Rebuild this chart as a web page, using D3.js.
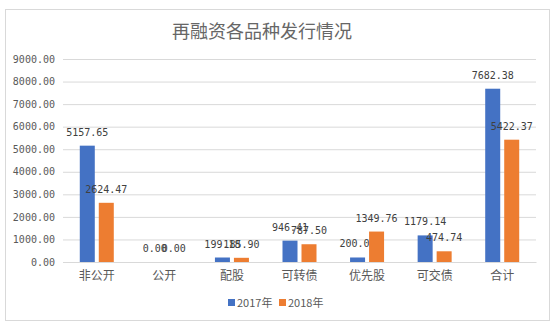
<!DOCTYPE html>
<html>
<head>
<meta charset="utf-8">
<script src="https://cdn.jsdelivr.net/npm/d3@7/dist/d3.min.js"></script>
<style>
  body { margin: 0; background: #fff; }
  svg text { font-family: "Noto Sans CJK SC", "DejaVu Sans", sans-serif; }
  svg text.num { font-family: "DejaVu Sans Mono", monospace; }
</style>
</head>
<body>
<svg id="chart"></svg>
<script>
'use strict';

var categories = ['非公开', '公开', '配股', '可转债', '优先股', '可交债', '合计'];
var series2017 = [5157.65, 0, 199.18, 946.41, 200.00, 1179.14, 7682.38];
var series2018 = [2624.47, 0, 185.90, 787.50, 1349.76, 474.74, 5422.37];
var seriesNames = ['2017年', '2018年'];
var yTicks = [0, 1000, 2000, 3000, 4000, 5000, 6000, 7000, 8000, 9000];
var colors = ['#4472C4', '#ED7D31'];

var svgWidth = 555, svgHeight = 328;
var margin = { top: 59, right: 19, bottom: 66, left: 63 };
var width = svgWidth - margin.left - margin.right;
var height = svgHeight - margin.top - margin.bottom;

var svg = d3.select('#chart')
    .attr('width', svgWidth)
    .attr('height', svgHeight);

// outer frame
svg.append('rect')
    .attr('x', 5.5).attr('y', 9.5)
    .attr('width', 544).attr('height', 311)
    .attr('fill', '#fff')
    .attr('stroke', '#d9d9d9');

svg.append('text')
    .attr('x', 262).attr('y', 38)
    .attr('text-anchor', 'middle')
    .attr('font-size', 18)
    .attr('fill', '#666')
    .text('再融资各品种发行情况');

var g = svg.append('g')
    .attr('transform', 'translate(' + margin.left + ',' + margin.top + ')');

var x = d3.scaleBand().domain(categories).range([0, width]);
var y = d3.scaleLinear().domain([0, 9000]).range([height, 0]);

// grid + y labels
g.append('g')
    .call(d3.axisLeft(y).tickValues(yTicks).tickSize(-width).tickPadding(8)
        .tickFormat(function(d) { return d3.format('.2f')(d); }))
    .call(function(a) {
        a.select('.domain').remove();
        a.selectAll('line').attr('stroke', '#d9d9d9');
        a.selectAll('text').attr('class', 'num').attr('fill', '#595959').attr('font-size', 10);
    });

g.append('g')
    .attr('transform', 'translate(0,' + height + ')')
    .call(d3.axisBottom(x).tickSize(0).tickPadding(9))
    .call(function(a) {
        a.select('.domain').attr('stroke', '#d9d9d9');
        a.selectAll('text').attr('fill', '#595959').attr('font-size', 12);
    });

var barW = 15, gap = 4;
var data = [series2017, series2018];

data.forEach(function(vals, si) {
    var off = si === 0 ? -(gap / 2 + barW) : gap / 2;
    g.selectAll('.bar' + si)
        .data(vals)
        .enter().append('rect')
        .attr('x', function(d, i) { return x(categories[i]) + x.bandwidth() / 2 + off; })
        .attr('y', function(d) { return y(d); })
        .attr('width', barW)
        .attr('height', function(d) { return height - y(d); })
        .attr('fill', colors[si]);

    g.selectAll('.lbl' + si)
        .data(vals)
        .enter().append('text')
        .attr('class', 'num')
        .attr('x', function(d, i) { return x(categories[i]) + x.bandwidth() / 2 + off + barW / 2; })
        .attr('y', function(d) { return y(d) - 10; })
        .attr('text-anchor', 'middle')
        .attr('font-size', 10)
        .attr('fill', '#404040')
        .text(function(d) { return d3.format('.2f')(d); });
});

// legend
var legend = svg.append('g').attr('transform', 'translate(228,303)');
seriesNames.forEach(function(name, i) {
    var lx = i * 51;
    legend.append('rect')
        .attr('x', lx).attr('y', -4)
        .attr('width', 7).attr('height', 7)
        .attr('fill', colors[i]);
    legend.append('text')
        .attr('x', lx + 9).attr('y', 4)
        .attr('font-size', 11)
        .attr('fill', '#595959')
        .text(name);
});
</script>
</body>
</html>
